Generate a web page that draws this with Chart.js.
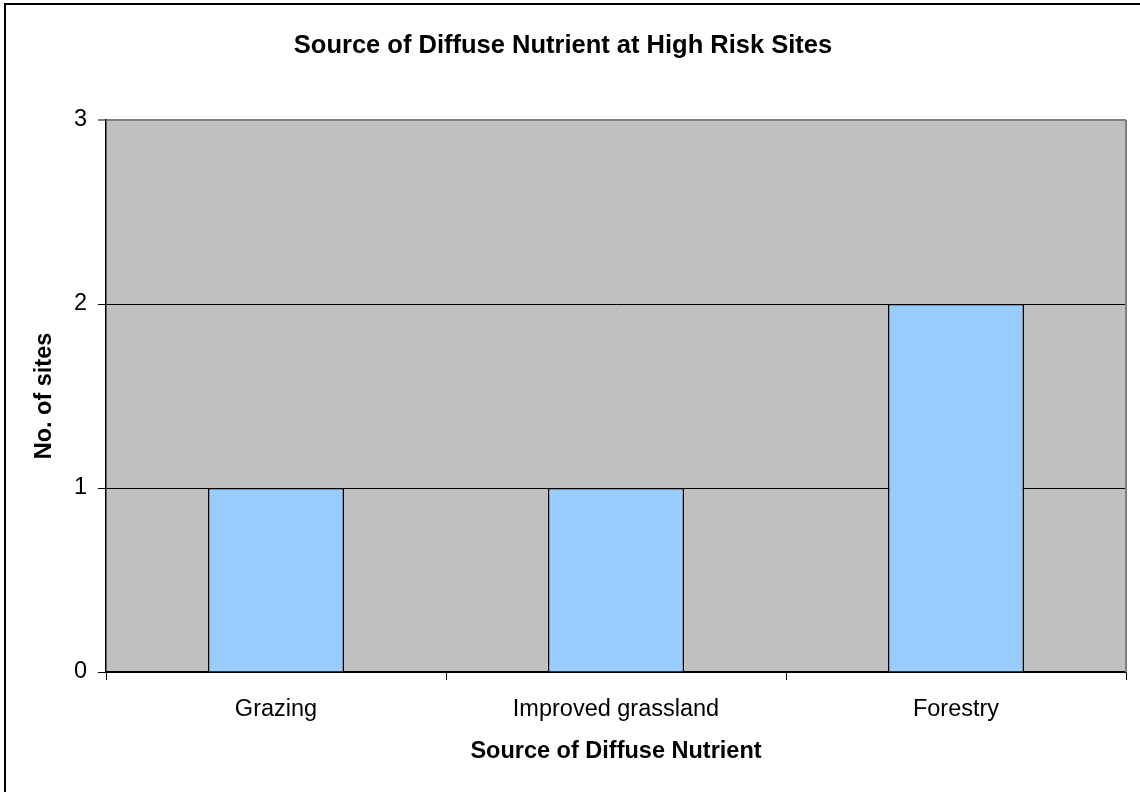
<!DOCTYPE html>
<html>
<head>
<meta charset="utf-8">
<script src="https://cdn.jsdelivr.net/npm/chart.js@4/dist/chart.umd.min.js"></script>
<style>
  body { margin: 0; background: #fff; }
  #wrap { width: 1140px; height: 792px; }
</style>
</head>
<body>
<div id="wrap"><canvas id="chart" width="1140" height="792"></canvas></div>
<script>
// data
const categories = ["Grazing", "Improved grassland", "Forestry"];
const siteCounts = [1, 1, 2];
const yTicks = [0, 1, 2, 3];

const chartTitle = "Source of Diffuse Nutrient at High Risk Sites";
const xTitle = "Source of Diffuse Nutrient";
const yTitle = "No. of sites";

const FONT = "'Liberation Sans', Arial, sans-serif";

// grey plot background, grey top/right edge and the outer frame
const framePlugin = {
  id: "frame",
  beforeDraw(chart) {
    const { ctx, chartArea: a } = chart;
    ctx.save();
    ctx.fillStyle = "#ffffff";
    ctx.fillRect(0, 0, chart.width, chart.height);
    ctx.fillStyle = "#c0c0c0";
    ctx.fillRect(a.left, a.top, a.right - a.left, a.bottom - a.top);
    ctx.restore();
  },
  afterDraw(chart) {
    const { ctx, chartArea: a } = chart;
    ctx.save();
    ctx.strokeStyle = "#808080";
    ctx.lineWidth = 2;
    ctx.beginPath();
    ctx.moveTo(a.right, a.top);
    ctx.lineTo(a.right, a.bottom);
    ctx.stroke();
    ctx.strokeStyle = "#000000";
    ctx.lineWidth = 2;
    ctx.strokeRect(5, 4, chart.width + 10, chart.height + 10);
    ctx.restore();
  }
};

new Chart(document.getElementById("chart").getContext("2d"), {
  type: "bar",
  data: {
    labels: categories,
    datasets: [{
      data: siteCounts,
      backgroundColor: "#99ccff",
      borderColor: "#000000",
      borderWidth: 1.5,
      categoryPercentage: 0.4,
      barPercentage: 1.0
    }]
  },
  options: {
    responsive: false,
    animation: false,
    layout: { padding: { left: 0, right: 14, top: 0, bottom: 0 } },
    plugins: {
      legend: { display: false },
      tooltip: { enabled: false },
      title: {
        display: true,
        text: chartTitle,
        color: "#000",
        font: { family: FONT, size: 25.5, weight: "bold" },
        padding: { top: 31, bottom: 58.4 }
      }
    },
    scales: {
      x: {
        grid: { drawOnChartArea: false, drawTicks: true, tickLength: 8, color: "#000", offset: true },
        border: { color: "#000", width: 1.5 },
        ticks: { color: "#000", font: { family: FONT, size: 23.5 }, padding: 15, maxRotation: 0 },
        title: {
          display: true,
          text: xTitle,
          color: "#000",
          font: { family: FONT, size: 23.5, weight: "bold" },
          padding: { top: 0, bottom: 26 }
        },
        afterFit(scale) { scale.height = 120; }
      },
      y: {
        min: 0,
        max: 3,
        afterBuildTicks(scale) { scale.ticks = yTicks.map(v => ({ value: v })); },
        grid: {
          color: ctx => (ctx.tick && ctx.tick.value === 3 ? "#808080" : "#000"),
          lineWidth: ctx => (ctx.tick && ctx.tick.value === 3 ? 2 : 1),
          tickLength: 8
        },
        border: { color: "#000", width: 1.5 },
        ticks: { color: "#000", font: { family: FONT, size: 23.5 }, padding: 11 },
        title: {
          display: true,
          text: yTitle,
          color: "#000",
          font: { family: FONT, size: 23.5, weight: "bold" },
          padding: { top: 30, bottom: 0 }
        },
        afterFit(scale) { scale.width = 106; }
      }
    }
  },
  plugins: [framePlugin]
});
</script>
</body>
</html>
